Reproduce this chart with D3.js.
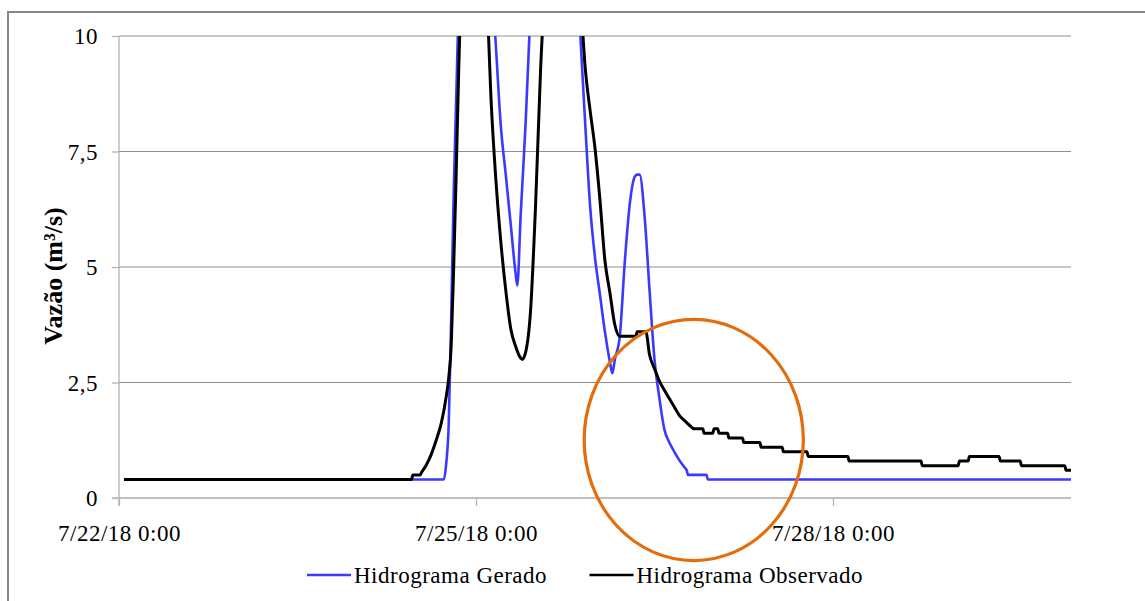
<!DOCTYPE html>
<html>
<head>
<meta charset="utf-8">
<script src="https://cdn.jsdelivr.net/npm/d3@7"></script>
<style>
  html, body { margin: 0; padding: 0; background: #fff; }
  svg { display: block; }
</style>
</head>
<body>
<svg id="chart" width="1145" height="601"></svg>
<script>
// Hydrograph: generated vs observed discharge (m³/s), hourly-ish samples
const geradoTime = [
  "2018-07-22 01:00", "2018-07-24 17:30", "2018-07-24 18:00", "2018-07-24 18:30", "2018-07-24 19:00",
  "2018-07-24 19:30", "2018-07-24 20:00", "2018-07-24 20:30", "2018-07-24 23:00", "2018-07-25 01:00",
  "2018-07-25 03:00", "2018-07-25 04:00", "2018-07-25 05:00", "2018-07-25 06:00", "2018-07-25 07:00",
  "2018-07-25 08:00", "2018-07-25 08:20", "2018-07-25 09:00", "2018-07-25 10:00", "2018-07-25 11:00",
  "2018-07-25 12:00", "2018-07-25 15:00", "2018-07-25 19:00", "2018-07-25 20:00", "2018-07-25 21:00",
  "2018-07-25 22:00", "2018-07-25 23:00", "2018-07-26 00:00", "2018-07-26 01:00", "2018-07-26 02:00",
  "2018-07-26 03:00", "2018-07-26 03:30", "2018-07-26 04:00", "2018-07-26 05:00", "2018-07-26 06:00",
  "2018-07-26 07:00", "2018-07-26 08:00", "2018-07-26 08:30", "2018-07-26 09:00", "2018-07-26 10:00",
  "2018-07-26 11:00", "2018-07-26 12:00", "2018-07-26 13:00", "2018-07-26 14:00", "2018-07-26 15:00",
  "2018-07-26 16:00", "2018-07-26 17:00", "2018-07-26 18:00", "2018-07-26 18:30", "2018-07-26 18:45",
  "2018-07-26 22:30", "2018-07-26 22:45", "2018-07-30 00:00"
];
const geradoFlow = [
  0.4, 0.4, 0.75, 1.6, 3.9,
  6.6, 8.6, 10.7, 16, 14,
  11.5, 9.8, 8.06, 7.0, 5.93,
  4.85, 4.6, 6.1, 8.1, 10.6,
  13, 20, 15, 12.5, 10.1,
  8.15, 6.34, 5.2, 4.4, 3.6,
  2.95, 2.7, 3.0, 3.5, 5.1,
  6.35, 6.95, 7.0, 7.0, 6.1,
  4.5, 3.0, 2.15, 1.48, 1.2,
  1.0, 0.82, 0.67, 0.6, 0.5,
  0.5, 0.4, 0.4
];

const observadoTime = [
  "2018-07-22 01:00", "2018-07-24 11:00", "2018-07-24 11:15", "2018-07-24 12:45", "2018-07-24 13:00",
  "2018-07-24 14:00", "2018-07-24 15:00", "2018-07-24 16:00", "2018-07-24 17:00", "2018-07-24 18:00",
  "2018-07-24 18:30", "2018-07-24 19:00", "2018-07-24 19:30", "2018-07-24 20:00", "2018-07-24 20:30",
  "2018-07-24 21:00", "2018-07-24 23:00", "2018-07-25 01:00", "2018-07-25 02:00", "2018-07-25 03:00",
  "2018-07-25 04:00", "2018-07-25 05:00", "2018-07-25 06:00", "2018-07-25 07:00", "2018-07-25 08:00",
  "2018-07-25 09:00", "2018-07-25 09:20", "2018-07-25 10:00", "2018-07-25 11:00", "2018-07-25 12:00",
  "2018-07-25 13:00", "2018-07-25 14:00", "2018-07-25 16:00", "2018-07-25 19:00", "2018-07-25 20:00",
  "2018-07-25 21:00", "2018-07-25 22:00", "2018-07-25 23:00", "2018-07-26 00:00", "2018-07-26 01:00",
  "2018-07-26 02:00", "2018-07-26 03:00", "2018-07-26 04:00", "2018-07-26 05:00", "2018-07-26 08:15",
  "2018-07-26 08:30", "2018-07-26 10:15", "2018-07-26 11:00", "2018-07-26 12:00", "2018-07-26 13:00",
  "2018-07-26 14:00", "2018-07-26 15:00", "2018-07-26 16:00", "2018-07-26 17:00", "2018-07-26 18:00",
  "2018-07-26 19:00", "2018-07-26 20:00", "2018-07-26 21:45", "2018-07-26 22:00", "2018-07-26 23:45",
  "2018-07-27 00:00", "2018-07-27 00:45", "2018-07-27 01:00", "2018-07-27 02:45", "2018-07-27 03:00",
  "2018-07-27 05:45", "2018-07-27 06:00", "2018-07-27 09:15", "2018-07-27 09:30", "2018-07-27 13:45",
  "2018-07-27 14:00", "2018-07-27 18:45", "2018-07-27 19:00", "2018-07-28 03:00", "2018-07-28 03:15",
  "2018-07-28 17:45", "2018-07-28 18:00", "2018-07-29 01:15", "2018-07-29 01:30", "2018-07-29 03:15",
  "2018-07-29 03:30", "2018-07-29 09:30", "2018-07-29 09:45", "2018-07-29 13:45", "2018-07-29 14:00",
  "2018-07-29 22:45", "2018-07-29 23:00", "2018-07-30 00:00"
];
const observadoFlow = [
  0.4, 0.4, 0.5, 0.5, 0.55,
  0.72, 0.95, 1.26, 1.62, 2.2,
  2.6, 3.3, 5.0, 7.0, 9.2,
  11.2, 17, 14, 11.5, 8.7,
  6.9, 5.55, 4.5, 3.67, 3.28,
  3.03, 3.0, 3.15, 4.05, 6.3,
  9.2, 11.5, 19, 15, 12.5,
  11.0, 9.34, 8.4, 7.57, 6.45,
  5.14, 4.45, 3.75, 3.5, 3.5,
  3.6, 3.6, 3.1, 2.8, 2.53,
  2.33, 2.15, 1.97, 1.79, 1.68,
  1.58, 1.5, 1.5, 1.4, 1.4,
  1.5, 1.5, 1.4, 1.4, 1.3,
  1.3, 1.2, 1.2, 1.1, 1.1,
  1.0, 1.0, 0.9, 0.9, 0.8,
  0.8, 0.7, 0.7, 0.8, 0.8,
  0.9, 0.9, 0.8, 0.8, 0.7,
  0.7, 0.6, 0.6
];

// Axis ticks
const xTickTimes = ["2018-07-22 00:00", "2018-07-25 00:00", "2018-07-28 00:00"];
const xTickLabels = ["7/22/18 0:00", "7/25/18 0:00", "7/28/18 0:00"];
const yTickValues = [0, 2.5, 5, 7.5, 10];
const yTickLabels = ["0", "2,5", "5", "7,5", "10"];
const xDomain = ["2018-07-22 00:00", "2018-07-30 00:00"];
const yDomain = [0, 10];

// Highlight ellipse around the recession (centre time/value, half-width in hours, half-height in m³/s)
const highlightCenter = ["2018-07-26 19:55", 1.255];
const highlightRadius = [22.1, 2.61];

const legendNames = ["Hidrograma Gerado", "Hidrograma Observado"];
const seriesColors = ["#3a3aff", "#000000"];

const FONT = '"Liberation Serif", "Times New Roman", Times, serif';

const parse = d3.timeParse("%Y-%m-%d %H:%M");
const svg = d3.select("#chart").style("font-family", FONT);
const W = 1145, H = 601;
const plot = { left: 119, right: 1071, top: 36, bottom: 498 };

const x = d3.scaleTime().domain(xDomain.map(parse)).range([plot.left, plot.right]);
const y = d3.scaleLinear().domain(yDomain).range([plot.bottom, plot.top]);

// Outer chart-area frame (only left and top edges fall inside the canvas)
svg.append("rect")
  .attr("x", 8).attr("y", 12).attr("width", W + 50).attr("height", H + 50)
  .attr("fill", "#fff").attr("stroke", "#868686").attr("stroke-width", 2);

// Horizontal gridlines
svg.append("g")
  .selectAll("line")
  .data(yTickValues.filter(v => v > 0))
  .join("line")
  .attr("x1", plot.left).attr("x2", plot.right)
  .attr("y1", d => y(d)).attr("y2", d => y(d))
  .attr("stroke", "#8f8f8f").attr("stroke-width", 1.2);

// Y axis
const yAxis = d3.axisLeft(y)
  .tickValues(yTickValues)
  .tickFormat((d, i) => yTickLabels[i])
  .tickSize(7).tickPadding(14);
const gy = svg.append("g").attr("transform", `translate(${plot.left},0)`).call(yAxis)
  .attr("font-family", null).attr("font-size", null);
gy.select(".domain").attr("stroke", "#b4b4b4").attr("stroke-width", 1.3)
  .attr("d", `M0,${plot.top}V${plot.bottom + 8}`);
gy.selectAll(".tick line").attr("stroke", "#b4b4b4").attr("stroke-width", 1.3);
gy.selectAll(".tick text")
  .style("font-family", FONT)
  .attr("font-size", 23).attr("letter-spacing", 0.5).attr("dy", "0.33em").attr("fill", "#000");

// X axis
const xAxis = d3.axisBottom(x)
  .tickValues(xTickTimes.map(parse))
  .tickFormat((d, i) => xTickLabels[i])
  .tickSize(8).tickPadding(19);
const gx = svg.append("g").attr("transform", `translate(0,${plot.bottom})`).call(xAxis)
  .attr("font-family", null).attr("font-size", null);
gx.select(".domain").attr("stroke", "#c0c0c0").attr("stroke-width", 2)
  .attr("d", `M${plot.left - 7},0H${plot.right}`);
gx.selectAll(".tick line").attr("stroke", "#b4b4b4").attr("stroke-width", 1.3);
gx.selectAll(".tick text")
  .style("font-family", FONT)
  .attr("font-size", 23).attr("letter-spacing", 0.5).attr("fill", "#000");

// Y axis title
svg.append("text")
  .attr("transform", `translate(62,${(plot.top + plot.bottom) / 2 + 9}) rotate(-90)`)
  .attr("text-anchor", "middle")
  .style("font-family", FONT)
  .attr("font-size", 26).attr("font-weight", "bold")
  .text("Vazão (m³/s)");

// Series, clipped to the plot area
svg.append("clipPath").attr("id", "plot-clip")
  .append("rect")
  .attr("x", plot.left).attr("y", plot.top)
  .attr("width", plot.right - plot.left + 4).attr("height", plot.bottom - plot.top + 4);

const line = d3.line().x(d => x(d.t)).y(d => y(d.v)).curve(d3.curveMonotoneX);
const series = [
  { name: legendNames[0], color: seriesColors[0], width: 2.6,
    data: geradoTime.map((t, i) => ({ t: parse(t), v: geradoFlow[i] })) },
  { name: legendNames[1], color: seriesColors[1], width: 3,
    data: observadoTime.map((t, i) => ({ t: parse(t), v: observadoFlow[i] })) }
];

svg.append("g").attr("clip-path", "url(#plot-clip)")
  .selectAll("path")
  .data(series)
  .join("path")
  .attr("d", d => line(d.data))
  .attr("fill", "none")
  .attr("stroke", d => d.color)
  .attr("stroke-width", d => d.width)
  .attr("stroke-linejoin", "round");

// Highlight ellipse
const cT = parse(highlightCenter[0]);
const cx = x(cT), cy = y(highlightCenter[1]);
const rx = x(d3.timeMinute.offset(cT, highlightRadius[0] * 60)) - cx;
const ry = cy - y(highlightCenter[1] + highlightRadius[1]);
svg.append("ellipse")
  .attr("cx", cx).attr("cy", cy).attr("rx", rx).attr("ry", ry)
  .attr("fill", "none").attr("stroke", "#e46c0a").attr("stroke-width", 3.2);

// Legend
const legendX = [307, 589.5];
const legend = svg.append("g").selectAll("g")
  .data(series)
  .join("g")
  .attr("transform", (d, i) => `translate(${legendX[i]},575)`);
legend.append("line")
  .attr("x1", 0).attr("x2", 44).attr("y1", 0).attr("y2", 0)
  .attr("stroke", d => d.color).attr("stroke-width", 2.6);
legend.append("text")
  .attr("x", 47).attr("y", 7.5)
  .style("font-family", FONT)
  .attr("font-size", 23).attr("letter-spacing", 0.5)
  .text(d => d.name);
</script>
</body>
</html>
